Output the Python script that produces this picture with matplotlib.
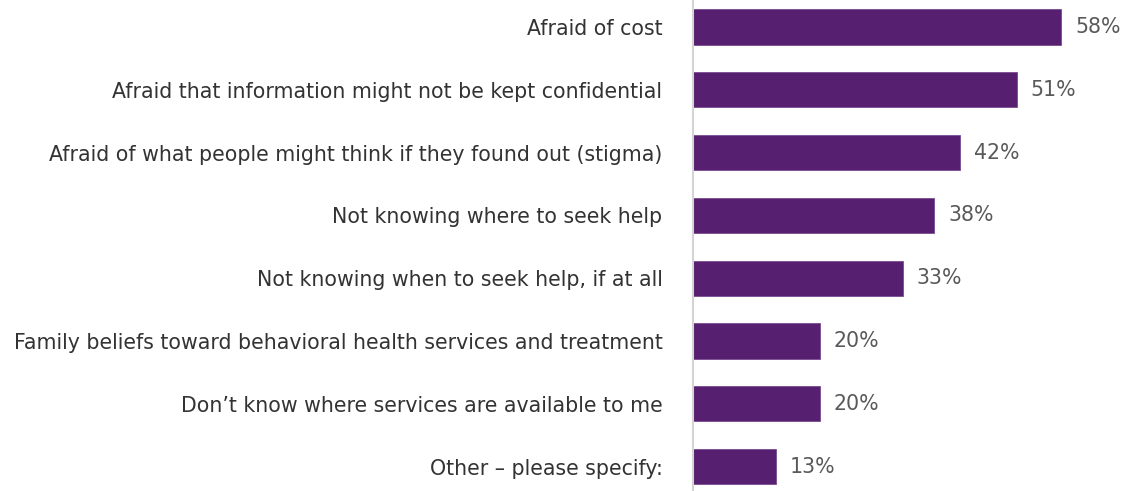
import matplotlib
matplotlib.use("Agg")
import matplotlib.pyplot as plt

categories = [
    "Afraid of cost",
    "Afraid that information might not be kept confidential",
    "Afraid of what people might think if they found out (stigma)",
    "Not knowing where to seek help",
    "Not knowing when to seek help, if at all",
    "Family beliefs toward behavioral health services and treatment",
    "Don\u2019t know where services are available to me",
    "Other \u2013 please specify:",
]
values = [58, 51, 42, 38, 33, 20, 20, 13]
value_labels = [f"{v}%" for v in values]

plt.rcParams['font.family'] = ['DejaVu Sans']

fig = plt.figure(figsize=(11.21, 4.91), dpi=100)
ax = fig.add_axes([693/1121, 0, 1 - 693/1121, 1])
ypos = list(range(len(categories)))
ax.barh(ypos, values, height=0.56, color="#561f6f", edgecolor="#7a4a90", linewidth=0.6)
ax.set_xlim(0, 67.4)
ax.set_ylim(7.39, -0.43)
ax.set_xticks([])
ax.set_yticks(ypos)
ax.set_yticklabels(categories, fontsize=14.8, color="#333333")
ax.tick_params(axis='y', length=0, pad=22)
for s in ["top", "right", "bottom"]:
    ax.spines[s].set_visible(False)
ax.spines["left"].set_color("#d4d4d4")
ax.spines["left"].set_linewidth(1.5)
for y, v, lab in zip(ypos, values, value_labels):
    ax.text(v + 2.2, y, lab, va="center", ha="left", fontsize=14.8, color="#595959")
fig.savefig("out.png", dpi=100)
